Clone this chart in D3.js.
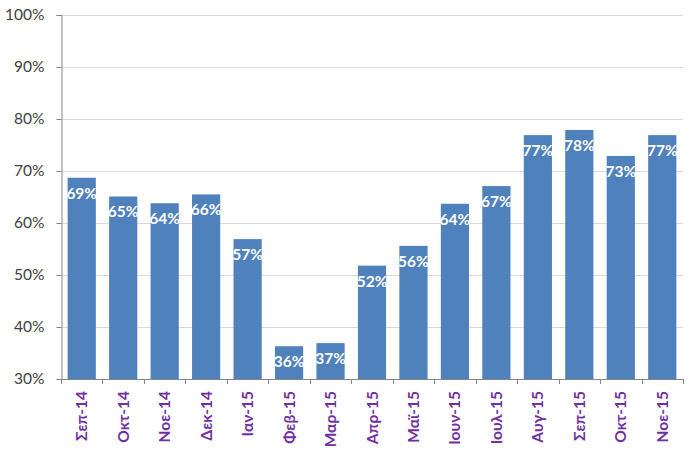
<!DOCTYPE html>
<html><head><meta charset="utf-8">
<script src="https://cdn.jsdelivr.net/npm/d3@7"></script>
<style>body{margin:0;background:#fff}svg{display:block}</style>
</head><body>
<svg id="c" width="693" height="453"></svg>
<script>
const categories = ["Σεπ-14","Οκτ-14","Νοε-14","Δεκ-14","Ιαν-15","Φεβ-15","Μαρ-15","Απρ-15","Μαϊ-15","Ιουν-15","Ιουλ-15","Αυγ-15","Σεπ-15","Οκτ-15","Νοε-15"];
const values = [68.7, 65.1, 63.8, 65.5, 56.9, 36.3, 36.9, 51.8, 55.6, 63.7, 67.1, 76.9, 77.9, 72.9, 76.9];
const yTicks = [30, 40, 50, 60, 70, 80, 90, 100];

const svg = d3.select("#c");
const m = {left: 61, right: 683, top: 15, bottom: 379};
const x = d3.scaleBand().domain(categories).range([m.left, m.right]).paddingInner(0.32).paddingOuter(0.16);
const y = d3.scaleLinear().domain([30, 100]).range([m.bottom, m.top]);

// gridlines
svg.append("g").selectAll("line").data(yTicks.filter(t => t > 30)).join("line")
  .attr("x1", m.left).attr("x2", m.right)
  .attr("y1", d => y(d) + 0.5).attr("y2", d => y(d) + 0.5)
  .attr("stroke", "#d9d9d9").attr("stroke-width", 1);

// y axis
const yAxis = d3.axisLeft(y).tickValues(yTicks).tickFormat(d => d + "%").tickSize(5).tickPadding(12);
const gy = svg.append("g").attr("transform", `translate(${m.left + 0.5},0)`).call(yAxis);
gy.select(".domain").attr("stroke", "#868686");
gy.selectAll(".tick line").attr("stroke", "#868686");
gy.selectAll(".tick text").attr("font-family", "Lato, 'Open Sans', sans-serif").attr("font-size", 15.5).attr("fill", "#404040");

// bars
svg.append("g").selectAll("rect").data(values).join("rect")
  .attr("x", (d, i) => x(categories[i]))
  .attr("width", x.bandwidth())
  .attr("y", d => y(d))
  .attr("height", d => y(30) - y(d))
  .attr("fill", "#4F81BD");

// value labels
svg.append("g").selectAll("text").data(values).join("text")
  .attr("x", (d, i) => x(categories[i]) + x.bandwidth() / 2)
  .attr("y", d => y(d) + 21)
  .attr("text-anchor", "middle")
  .attr("font-family", "Lato, 'Open Sans', sans-serif")
  .attr("font-weight", "bold").attr("font-size", 15.5)
  .attr("fill", "#fff")
  .text(d => Math.round(d) + "%");

// x axis
const boundaries = d3.range(categories.length + 1).map(i => m.left + i * (m.right - m.left) / categories.length);
const gx = svg.append("g");
gx.append("line").attr("x1", m.left).attr("x2", m.right).attr("y1", m.bottom + 0.5).attr("y2", m.bottom + 0.5).attr("stroke", "#868686");
gx.selectAll("line.t").data(boundaries).join("line").attr("class", "t")
  .attr("x1", d => Math.round(d) + 0.5).attr("x2", d => Math.round(d) + 0.5)
  .attr("y1", m.bottom).attr("y2", m.bottom + 5).attr("stroke", "#868686");
gx.selectAll("text").data(categories).join("text")
  .attr("transform", d => `translate(${x(d) + x.bandwidth() / 2 + 5.5},${m.bottom + 12}) rotate(-90)`)
  .attr("text-anchor", "end")
  .attr("font-family", "Lato, 'Open Sans', sans-serif")
  .attr("font-weight", "bold").attr("font-size", 15.5)
  .attr("fill", "#7030A0")
  .text(d => d);
</script>
</body></html>
